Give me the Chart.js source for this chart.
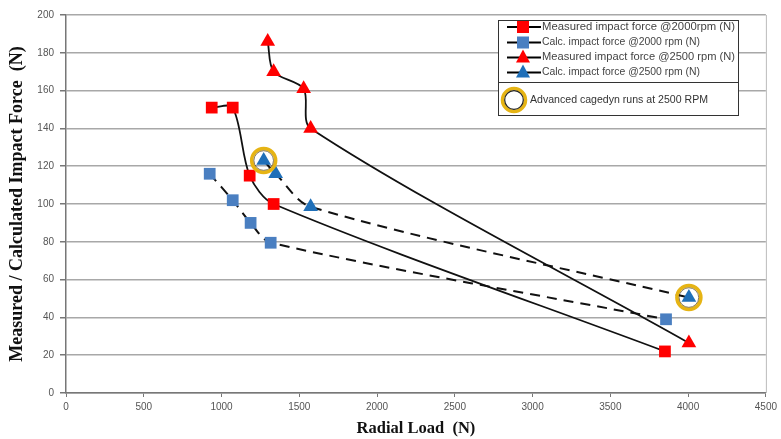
<!DOCTYPE html>
<html><head><meta charset="utf-8">
<script src="https://cdn.jsdelivr.net/npm/chart.js@4/dist/chart.umd.min.js"></script>
<style>html,body{margin:0;padding:0;background:#fff;}#wrap{width:781px;height:439px;}</style>
</head><body><div id="wrap"><canvas id="c" width="781" height="439"></canvas></div>
<script>
const seriesNames = ["Measured impact force @2000rpm (N)","Calc. impact force @2000 rpm (N)","Measured impact force @2500 rpm (N)","Calc. impact force @2500 rpm (N)"];
const meas2000X = [937, 1072, 1181, 1335, 3851];
const meas2000Y = [151, 151, 115, 100, 22];
const calc2000X = [924, 1072, 1187, 1316, 3858];
const calc2000Y = [116, 102, 90, 79.5, 39];
const meas2500X = [1297, 1335, 1528, 1573, 4005];
const meas2500Y = [186, 170, 161, 140, 26.5];
const calc2500X = [1271, 1348, 1573, 4005];
const calc2500Y = [123, 116, 98.5, 50.5];
const cagedynX = [1271, 4005];
const cagedynY = [123, 50.5];
const highlightLabel = "Advanced cagedyn runs at 2500 RPM";
const xTicks = [0,500,1000,1500,2000,2500,3000,3500,4000,4500];
const yTicks = [0,20,40,60,80,100,120,140,160,180,200];

const pts = (xs, ys) => xs.map((x,i)=>({x:x,y:ys[i]}));
const RED = '#ff0000', BLUE = '#4a7fc1', BLUE2 = '#1f6fb8', GOLD = '#e6b414';

function fitText(ctx, text, x, y, w){
  const m = ctx.measureText(text).width;
  ctx.save(); ctx.translate(x, y); ctx.scale(w/m, 1); ctx.fillText(text, 0, 0); ctx.restore();
}

const legendPlugin = {
  id:'customLegend',
  afterDraw(chart){
    const ctx = chart.ctx;
    ctx.save();
    ctx.fillStyle = '#fff';
    ctx.fillRect(498,20,240,95);
    ctx.strokeStyle = '#333'; ctx.lineWidth = 1;
    ctx.strokeRect(498.5,20.5,240,62);
    ctx.strokeRect(498.5,82.5,240,33);
    const rows = [27,42.5,57.5,72.5];
    const styles = [
      {c:RED, s:'sq'},{c:BLUE, s:'sq'},{c:RED, s:'tri'},{c:BLUE2, s:'tri'}];
    const widths = [193,158,193,158];
    ctx.font = '10px "Liberation Sans", Arial, sans-serif';
    ctx.textBaseline = 'middle';
    rows.forEach((y,i)=>{
      ctx.strokeStyle = '#000'; ctx.lineWidth = 2;
      ctx.beginPath(); ctx.moveTo(507,y); ctx.lineTo(541,y); ctx.stroke();
      ctx.fillStyle = styles[i].c;
      if(styles[i].s==='sq'){ ctx.fillRect(517,y-6,12,12); }
      else { ctx.beginPath(); ctx.moveTo(523,y-8); ctx.lineTo(530,y+5); ctx.lineTo(516,y+5); ctx.closePath(); ctx.fill(); }
      ctx.fillStyle = '#444';
      fitText(ctx, seriesNames[i], 542, y, widths[i]);
    });
    ctx.strokeStyle = GOLD; ctx.lineWidth = 3.5;
    ctx.beginPath(); ctx.arc(514,100,11.5,0,Math.PI*2); ctx.stroke();
    ctx.strokeStyle = '#222'; ctx.lineWidth = 1.2;
    ctx.beginPath(); ctx.arc(514,100,9.3,0,Math.PI*2); ctx.stroke();
    ctx.fillStyle = '#333';
    fitText(ctx, highlightLabel, 530, 100, 178);
    ctx.restore();
  }
};

const ringPlugin = {
  id:'rings',
  afterDatasetsDraw(chart){
    const ctx = chart.ctx, xs = chart.scales.x, ys = chart.scales.y;
    ctx.save();
    cagedynX.forEach((v,i)=>{
      const px = xs.getPixelForValue(v), py = ys.getPixelForValue(cagedynY[i]);
      ctx.strokeStyle = GOLD; ctx.lineWidth = 3.5;
      ctx.beginPath(); ctx.arc(px,py,12,0,Math.PI*2); ctx.stroke();
      ctx.strokeStyle = 'rgba(60,40,0,0.6)'; ctx.lineWidth = 1;
      ctx.beginPath(); ctx.arc(px,py,9.8,0,Math.PI*2); ctx.stroke();
    });
    ctx.restore();
  }
};

const tickFont = {family:'"Liberation Sans", Arial, sans-serif', size:10};
new Chart(document.getElementById('c'), {
  type:'scatter',
  data:{datasets:[
    {label:seriesNames[0], data:pts(meas2000X,meas2000Y), showLine:true, tension:0.3, borderColor:'#111', borderWidth:1.8, pointStyle:'rect', pointRadius:8.3, pointBackgroundColor:RED, pointBorderColor:RED, pointBorderWidth:0, order:1},
    {label:seriesNames[1], data:pts(calc2000X,calc2000Y), showLine:true, tension:0.3, borderColor:'#111', borderWidth:2, borderDash:[10,7], pointStyle:'rect', pointRadius:8.3, pointBackgroundColor:BLUE, pointBorderColor:BLUE, pointBorderWidth:0, order:2},
    {label:seriesNames[2], data:pts(meas2500X,meas2500Y), showLine:true, tension:0.3, borderColor:'#111', borderWidth:1.8, pointStyle:'triangle', pointRadius:8.5, pointBackgroundColor:RED, pointBorderColor:RED, pointBorderWidth:0, order:3},
    {label:seriesNames[3], data:pts(calc2500X,calc2500Y), showLine:true, tension:0.3, borderColor:'#111', borderWidth:2, borderDash:[10,7], pointStyle:'triangle', pointRadius:8.5, pointBackgroundColor:BLUE2, pointBorderColor:BLUE2, pointBorderWidth:0, order:4}
  ]},
  options:{
    responsive:false, animation:false, devicePixelRatio:1,
    layout:{padding:{top:15,right:14,left:0,bottom:0}},
    plugins:{legend:{display:false}, tooltip:{enabled:false}},
    scales:{
      x:{type:'linear', min:0, max:4500,
        afterBuildTicks(s){ s.ticks = xTicks.map(v=>({value:v})); },
        afterFit(s){ s.height = 46; },
        grid:{display:true, drawOnChartArea:false, drawTicks:true, tickLength:4, tickColor:'#777', lineWidth:1},
        border:{display:true, color:'#777', width:1.5},
        ticks:{color:'#555', font:tickFont, maxRotation:0, padding:4, callback:(v)=>String(v)},
        title:{display:true, text:'Radial Load  (N)', color:'#111', font:{family:'"Liberation Serif", "Times New Roman", serif', size:16.5, weight:'bold'}, padding:{top:1,bottom:0}}
      },
      y:{type:'linear', min:0, max:200,
        afterBuildTicks(s){ s.ticks = yTicks.map(v=>({value:v})); },
        afterFit(s){ s.width = 66; },
        grid:{color:'#a8a8a8', lineWidth:1.5, drawTicks:true, tickLength:6, tickColor:'#777'},
        border:{display:true, color:'#777', width:1.5},
        ticks:{color:'#555', font:tickFont, padding:6, callback:(v)=>String(v)},
        title:{display:true, text:'Measured / Calculated Impact Force  (N)', color:'#111', font:{family:'"Liberation Serif", "Times New Roman", serif', size:18, weight:'bold'}, padding:{top:7,bottom:0}}
      }
    }
  },
  plugins:[ringPlugin, legendPlugin, {
    id:'rightBorder',
    afterDraw(chart){ const a=chart.chartArea, ctx=chart.ctx; ctx.save(); ctx.strokeStyle='#bbb'; ctx.lineWidth=1; ctx.beginPath(); ctx.moveTo(a.right+0.5,a.top); ctx.lineTo(a.right+0.5,a.bottom); ctx.stroke(); ctx.restore(); }
  }]
});
</script></body></html>
